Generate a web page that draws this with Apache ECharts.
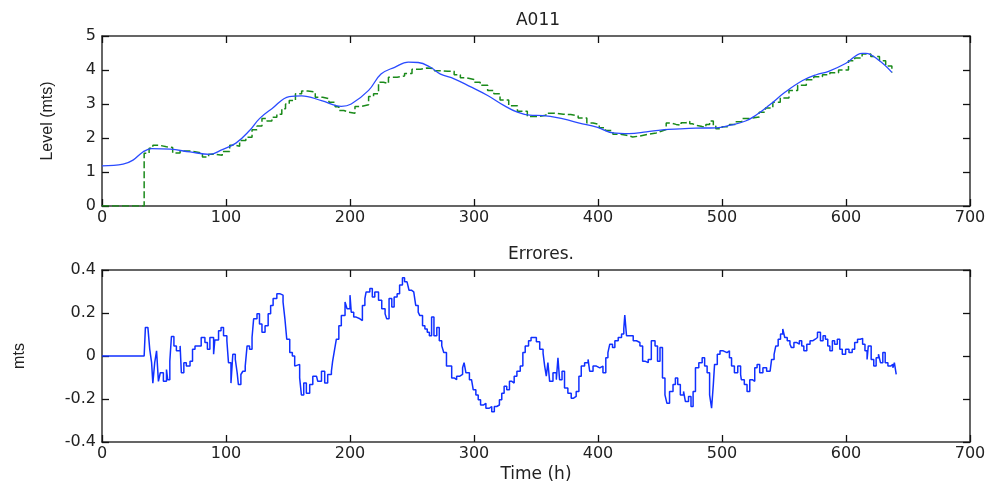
<!DOCTYPE html>
<html>
<head>
<meta charset="utf-8">
<script src="https://cdn.jsdelivr.net/npm/echarts@6/dist/echarts.min.js"></script>
<style>html,body{margin:0;padding:0;background:#fff}#c{width:994px;height:486px}</style>
</head>
<body>
<div id="c"></div>
<script>
const xTicks = [0, 100, 200, 300, 400, 500, 600, 700];

const modelTime = [0,17,25,33,40,55,71,87,97,108,119,127,137,151,161,177,193,201,215,225,236,247,255,265,273,284,297,311,324,335,345,356,372,385,399,412,425,439,452,466,479,495,506,519,527,538,551,565,576,586,600,613,616,627,637];
const modelLevel = [1.18,1.23,1.35,1.59,1.69,1.67,1.59,1.52,1.66,1.85,2.22,2.57,2.86,3.22,3.24,3.10,2.93,3.00,3.40,3.88,4.08,4.23,4.22,4.08,3.88,3.74,3.51,3.25,2.96,2.76,2.67,2.66,2.56,2.44,2.32,2.15,2.13,2.18,2.24,2.27,2.29,2.30,2.37,2.50,2.66,2.96,3.35,3.69,3.86,3.96,4.20,4.49,4.49,4.27,3.93];

const measTime = [0,34,34,38,41,46,52,57,63,71,76,81,86,92,97,103,107,111,116,121,125,129,133,137,141,145,148,151,156,161,166,172,178,183,188,191,195,199,204,209,215,219,223,227,231,238,244,250,257,262,268,274,279,284,289,294,300,305,311,316,321,328,335,343,345,352,358,365,372,378,384,391,396,401,406,412,418,423,428,434,440,447,451,455,459,463,467,471,474,476,480,484,487,490,493,495,500,506,511,516,522,530,535,541,547,554,561,568,574,581,587,594,602,607,613,620,627,632,637];
const measLevel = [0,0,1.55,1.70,1.79,1.74,1.72,1.56,1.62,1.59,1.55,1.44,1.52,1.49,1.60,1.79,1.76,1.93,2.02,2.24,2.35,2.57,2.50,2.61,2.70,2.86,3.00,3.10,3.30,3.38,3.35,3.20,3.16,3.05,2.92,2.81,2.76,2.73,2.93,2.98,3.22,3.30,3.64,3.60,3.79,3.82,3.90,4.02,4.06,4.04,3.98,3.96,3.96,3.86,3.77,3.72,3.64,3.55,3.40,3.30,3.12,2.95,2.79,2.63,2.63,2.67,2.73,2.70,2.69,2.65,2.59,2.44,2.40,2.30,2.22,2.11,2.08,2.03,2.06,2.11,2.15,2.20,2.25,2.44,2.40,2.37,2.45,2.49,2.42,2.37,2.34,2.32,2.40,2.50,2.35,2.27,2.33,2.40,2.48,2.57,2.62,2.76,2.88,3.05,3.18,3.40,3.55,3.71,3.80,3.86,3.92,4.00,4.27,4.35,4.47,4.40,4.27,4.12,3.93];

const errTime = [0,34,35,37,38.5,40,41,42.5,44,45.5,47,49.5,52,53,54.7,56,58,60,63,64,66,68,71,73,75,77.5,80,83,85,87,90,91,94,96,98,100.7,102,104,105.5,107.5,109,110,112,113.6,115.5,117,119,121,122.3,125,127,129,131.5,134,136,138,141,143.3,146,147.5,149,151.4,153.5,155.4,157,159.4,160.8,162.7,164.8,167.5,170,173,174,177,179.6,182,185,186,187.6,189,191,193,196,197.6,200,201,203,205,208,210,212,213,216,218,220,223,225.6,228.3,229.6,231.5,233.7,235.6,238,240,242.3,244,246,247.6,249.5,251.4,253,255,256.3,258.5,260.4,262.3,264,265.8,267.7,270,272,274,275.6,277.8,280,282,284,286,288.6,290.8,292,293.5,296.3,298,299.4,301.5,303.4,305.3,307.5,309.6,312.3,314.3,316.4,318.3,320.5,322.4,324.3,326.4,328.6,330.5,332.4,334.6,337.3,339.4,341.3,344,346,348,350.3,353,355.7,357,358.3,359.6,361,363.7,366.4,367.7,369,371,373,375.7,378.4,380.3,382.4,384.6,386.5,389.2,392,393.3,396,398.7,401.4,404,406.3,408,409.5,411.7,413.6,416.3,419,420.8,421.6,423,425.7,428.4,431,433.8,436,437.8,440.5,443,446,448,450,452,454,455.6,457.7,460.5,462.4,464.3,466.4,469,470.5,473,475,476.7,478.6,481.3,484,486,488,490,491.6,493,494,496.2,498.4,501,504,506,507.7,510,512.7,515,515.6,518,520.2,522.4,524.5,526.4,528.3,530.4,533,536,538.8,540,542,543.4,545.3,547.2,549,550.6,552.6,554.8,556,558,560,562.4,564.3,566,568.4,571,573.4,575.2,577,579.4,581.5,583.4,585.3,587,589,590.8,593,595,597,599.7,602.4,605,607,609.3,611.5,613.4,615.3,617,618,620.3,622.4,624.3,626.2,627.8,629.7,631.6,633.8,636,637.8,639,640.5];
const errValue = [0,0,0.133,0.126,0.031,-0.031,-0.126,-0.031,0.024,-0.118,-0.078,-0.118,-0.063,-0.110,-0.024,0.091,0.047,0.024,0.047,-0.078,-0.031,-0.047,-0.024,0.031,0.047,0.047,0.086,0.063,0.031,0.086,0.008,0.075,0.118,0.133,0.094,0.071,-0.031,-0.126,0.008,-0.016,-0.078,-0.133,-0.086,-0.071,-0.047,0.047,0.031,0.086,0.173,0.196,0.149,0.110,0.141,0.196,0.235,0.267,0.290,0.283,0.251,0.173,0.078,0.016,0,-0.047,-0.039,-0.102,-0.181,-0.126,-0.173,-0.133,-0.094,-0.086,-0.118,-0.071,-0.126,-0.086,-0.071,-0.024,0.031,0.078,0.141,0.188,0.251,0.220,0.283,0.204,0.181,0.173,0.165,0.235,0.267,0.298,0.314,0.275,0.298,0.259,0.220,0.196,0.173,0.267,0.228,0.275,0.290,0.330,0.364,0.345,0.353,0.306,0.298,0.298,0.235,0.204,0.188,0.141,0.126,0.110,0.094,0.181,0.094,0.133,0.071,0.047,0.016,-0.047,-0.047,-0.102,-0.110,-0.094,-0.086,-0.055,-0.031,-0.078,-0.110,-0.118,-0.157,-0.181,-0.204,-0.228,-0.220,-0.243,-0.235,-0.259,-0.235,-0.228,-0.204,-0.173,-0.141,-0.157,-0.118,-0.126,-0.094,-0.071,-0.047,0.016,0.047,0.071,0.086,0.086,0.066,0.031,0.013,-0.047,-0.094,-0.031,-0.118,-0.078,-0.110,-0.008,-0.110,-0.071,-0.149,-0.173,-0.196,-0.188,-0.165,-0.094,-0.047,-0.031,-0.016,-0.071,-0.047,-0.055,-0.047,-0.078,-0.008,0.016,0.055,0.039,0.071,0.086,0.102,0.126,0.190,0.094,0.094,0.071,0.063,0.047,-0.024,-0.031,-0.016,0.071,0.047,-0.024,0.039,-0.102,-0.181,-0.220,-0.165,-0.133,-0.102,-0.133,-0.181,-0.165,-0.212,-0.188,-0.235,-0.165,-0.055,-0.031,-0.008,-0.047,-0.078,-0.181,-0.243,-0.133,-0.039,0.008,0.024,0.016,0.024,-0.008,-0.047,-0.078,-0.047,-0.086,-0.110,-0.133,-0.165,-0.110,-0.118,-0.055,-0.039,-0.078,-0.055,-0.071,-0.078,-0.016,0.008,0.047,0.078,0.102,0.126,0.086,0.071,0.055,0.039,0.063,0.055,0.071,0.047,0.024,0.055,0.071,0.078,0.086,0.110,0.071,0.094,0.078,0.047,0.024,0.071,0.055,0.078,0.031,0.008,0.031,0.016,0.031,0.063,0.078,0.082,0.055,0.024,-0.016,0.047,-0.016,-0.047,-0.008,0.008,-0.031,0.016,-0.031,-0.047,-0.039,-0.055,-0.031,-0.086];

function zip(a, b) { return a.map((v, i) => [v, b[i]]); }

const txt = '#222';
const lineCol = '#333';
const font = 'Liberation Sans, Arial, sans-serif';
const wide = 'DejaVu Sans, Verdana, sans-serif';

function xAx(gi, pos, showLabels, name) {
  return {
    gridIndex: gi, type: 'value', min: 0, max: 700, interval: 100, position: pos,
    axisLine: { show: true, onZero: false, lineStyle: { color: lineCol, width: 1.5 } },
    axisTick: { show: true, inside: true, length: 7, lineStyle: { color: '#111', width: 1.3 } },
    axisLabel: { show: showLabels, color: txt, fontSize: 16, fontFamily: wide, margin: 4 },
    splitLine: { show: false },
    name: name || '', nameLocation: 'middle', nameGap: 24,
    nameTextStyle: { color: txt, fontSize: 17, fontFamily: wide }
  };
}
function yAx(gi, pos, min, max, interval, showLabels, name, gap) {
  return {
    gridIndex: gi, type: 'value', min: min, max: max, interval: interval, position: pos,
    axisLine: { show: true, onZero: false, lineStyle: { color: lineCol, width: 1.5 } },
    axisTick: { show: true, inside: true, length: 7, lineStyle: { color: '#111', width: 1.3 } },
    axisLabel: { show: showLabels, color: txt, fontSize: 16, fontFamily: wide, margin: 6,
      formatter: v => String(Math.round(v * 10) / 10) },
    splitLine: { show: false },
    name: name || '', nameLocation: 'middle', nameGap: gap || 40, nameRotate: 90,
    nameTextStyle: { color: txt, fontSize: 16, fontFamily: font }
  };
}

const chart = echarts.init(document.getElementById('c'), null, { renderer: 'canvas' });
chart.setOption({
  backgroundColor: '#fff',
  animation: false,
  title: [
    { text: 'A011', left: 533, top: 7, textAlign: 'center',
      textStyle: { color: txt, fontSize: 17, fontWeight: 'normal', fontFamily: wide } },
    { text: 'Errores.', left: 536, top: 241, textAlign: 'center',
      textStyle: { color: txt, fontSize: 17, fontWeight: 'normal', fontFamily: wide } }
  ],
  grid: [
    { left: 102, right: 24, top: 36, height: 170 },
    { left: 102, right: 24, top: 270, height: 172 }
  ],
  xAxis: [
    xAx(0, 'bottom', true),
    xAx(0, 'top', false),
    xAx(1, 'bottom', true, 'Time (h)'),
    xAx(1, 'top', false)
  ],
  yAxis: [
    yAx(0, 'left', 0, 5, 1, true, 'Level (mts)', 46),
    yAx(0, 'right', 0, 5, 1, false),
    yAx(1, 'left', -0.4, 0.4, 0.2, true, 'mts', 74),
    yAx(1, 'right', -0.4, 0.4, 0.2, false)
  ],
  series: [
    { type: 'line', xAxisIndex: 0, yAxisIndex: 0, data: zip(measTime, measLevel),
      showSymbol: false, step: 'end',
      lineStyle: { color: '#1a8a1a', width: 1.5, type: [7, 3] } },
    { type: 'line', xAxisIndex: 0, yAxisIndex: 0, data: zip(modelTime, modelLevel),
      showSymbol: false, smooth: 0.4,
      lineStyle: { color: '#2a4bff', width: 1.3 } },
    { type: 'line', xAxisIndex: 2, yAxisIndex: 2, data: zip(errTime, errValue),
      showSymbol: false, step: 'end',
      lineStyle: { color: '#1030ff', width: 1.5 } }
  ]
});
</script>
</body>
</html>
